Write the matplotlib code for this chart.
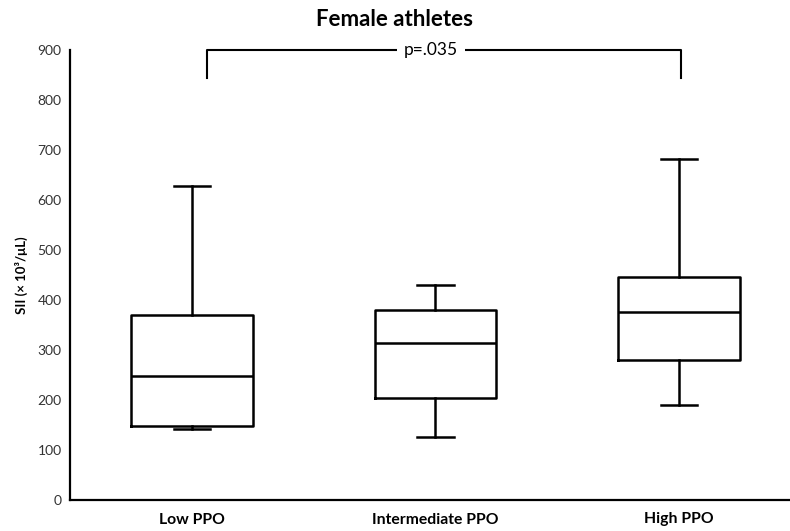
import matplotlib.pyplot as plt

plt.rcParams['font.family'] = ['Lato', 'DejaVu Sans']

groups = ["Low PPO", "Intermediate PPO", "High PPO"]
whisker_low = [143, 126, 190]
q1 = [148, 205, 281]
median = [248, 315, 376]
q3 = [370, 380, 446]
whisker_high = [628, 431, 683]
p_text = "p=.035"
bracket_y = 900
bracket_leg = 845

stats = []
for i in range(len(groups)):
    stats.append({"label": groups[i], "whislo": whisker_low[i], "q1": q1[i],
                  "med": median[i], "q3": q3[i], "whishi": whisker_high[i],
                  "fliers": []})

fig = plt.figure(figsize=(7.9, 5.31), dpi=100)
ax = fig.add_axes([70 / 790, 31 / 531, 720 / 790, 450 / 531])

lw = 1.8
ax.bxp(stats, positions=[1, 2, 3], widths=0.5, capwidths=0.15, showfliers=False,
       boxprops=dict(color="black", linewidth=lw),
       medianprops=dict(color="black", linewidth=lw),
       whiskerprops=dict(color="black", linewidth=lw),
       capprops=dict(color="black", linewidth=lw))

ax.set_xlim(0.498, 3.457)
ax.set_ylim(0, 900)
ax.set_yticks(range(0, 901, 100))
ax.tick_params(axis="y", length=0, labelsize=10, pad=6, labelcolor="#333333")
ax.tick_params(axis="x", length=0, labelsize=11.3, pad=9)
for lab in ax.get_xticklabels():
    lab.set_fontweight("bold")
for s in ["top", "right"]:
    ax.spines[s].set_visible(False)
for s in ["left", "bottom"]:
    ax.spines[s].set_linewidth(1.6)

ax.set_ylabel("SII (× 10³/μL)", fontsize=9.5, fontweight="bold", labelpad=7)

# significance bracket
ax.plot([1.06, 1.06, 3.01, 3.01], [bracket_leg, bracket_y, bracket_y, bracket_leg],
        color="black", linewidth=1.5, clip_on=False)
ax.text(1.98, bracket_y, p_text, ha="center", va="center", fontsize=12.5,
        bbox=dict(facecolor="white", edgecolor="none", pad=5))

fig.text(0.5, 1 - 20 / 531, "Female athletes", ha="center", va="center",
         fontsize=16, fontweight="bold")

fig.savefig("out.png", dpi=100)
